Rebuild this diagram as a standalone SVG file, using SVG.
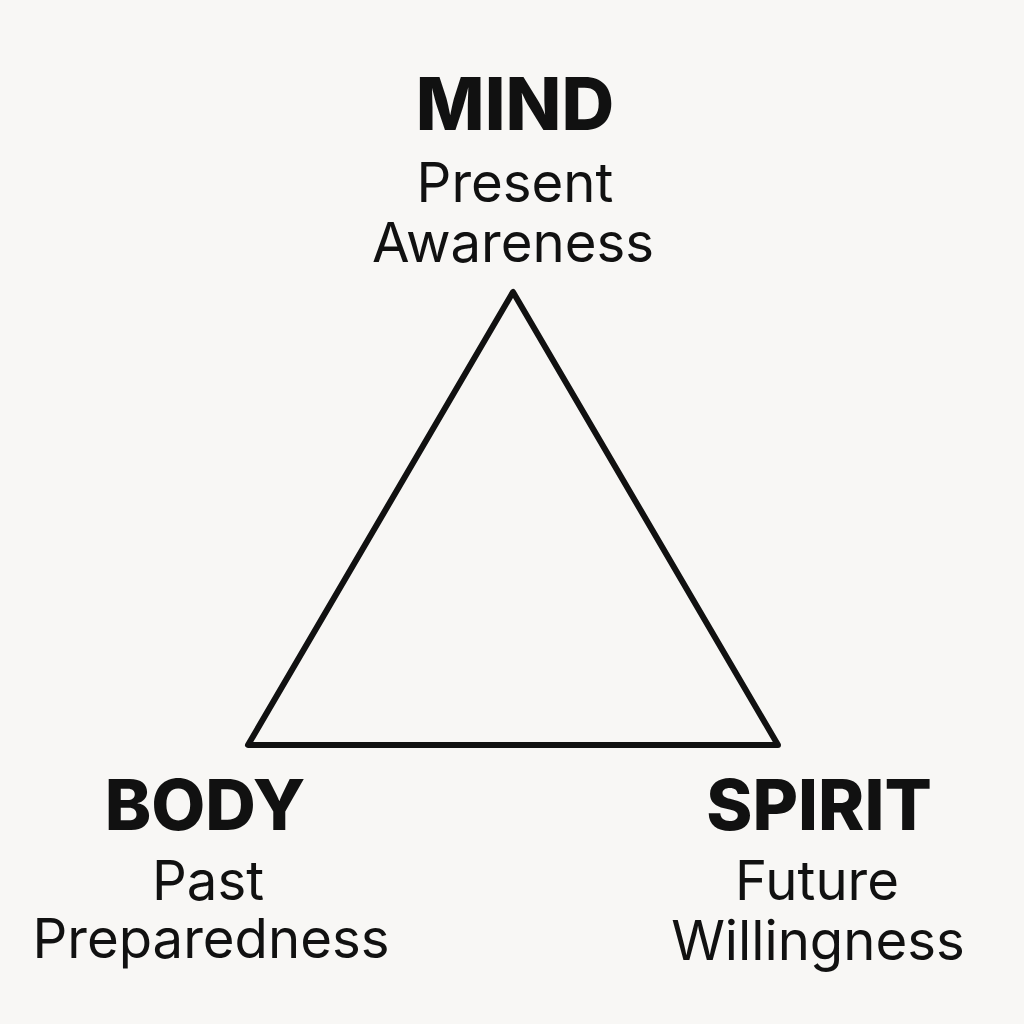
<svg xmlns="http://www.w3.org/2000/svg" width="1024" height="1024" viewBox="0 0 1024 1024">
<style>
.t{font-family:Inter,"Liberation Sans",sans-serif;font-weight:800;font-size:70px;fill:#111;text-anchor:middle}
.s{font-family:Inter,"Liberation Sans",sans-serif;font-weight:400;font-size:54.5px;fill:#111;text-anchor:middle}
</style>
<rect width="1024" height="1024" fill="#f8f7f5"/>
<g id="connectors">
<polygon points="513,292 248,745 778,745" fill="none" stroke="#111" stroke-width="6" stroke-linejoin="round"/>
</g>
<g id="mind">
<text class="t" x="515" y="130" style="font-size:73px">MIND</text>
<text class="s" x="515" y="202">Present</text>
<text class="s" x="513" y="262">Awareness</text>
</g>
<g id="body">
<text class="t" x="205" y="830">BODY</text>
<text class="s" x="208" y="900">Past</text>
<text class="s" x="211" y="958">Preparedness</text>
</g>
<g id="spirit">
<text class="t" x="819" y="830">SPIRIT</text>
<text class="s" x="817" y="900">Future</text>
<text class="s" x="818" y="960">Willingness</text>
</g>
</svg>
